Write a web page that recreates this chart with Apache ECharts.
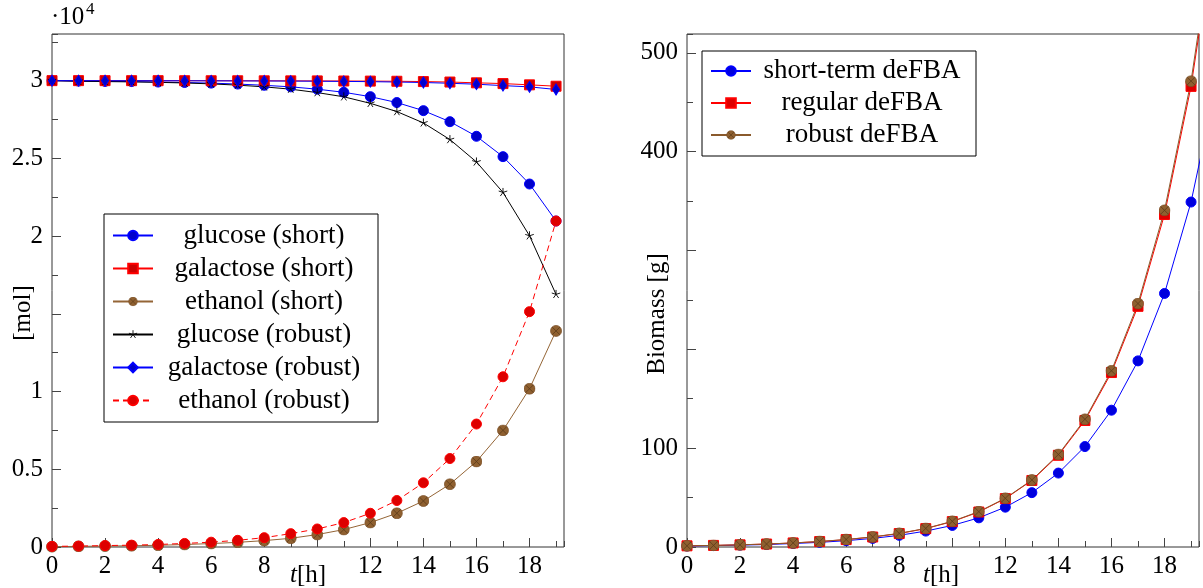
<!DOCTYPE html>
<html>
<head>
<meta charset="utf-8">
<script src="https://cdn.jsdelivr.net/npm/echarts@6/dist/echarts.min.js"></script>
<style>
  html, body { margin: 0; padding: 0; background: #fff; }
  #chart { width: 1203px; height: 588px; }
</style>
</head>
<body>
<div id="chart"></div>
<script>
// time [h]
const hours = [0, 1, 2, 3, 4, 5, 6, 7, 8, 9, 10, 11, 12, 13, 14, 15, 16, 17, 18, 19];
const hoursBio = [0, 1, 2, 3, 4, 5, 6, 7, 8, 9, 10, 11, 12, 13, 14, 15, 16, 17, 18, 19, 20];

// left panel [mol]
const glucoseShort = [30000, 29970, 29950, 29940, 29910, 29880, 29840, 29780, 29700, 29600, 29450, 29250, 28970, 28590, 28070, 27360, 26420, 25110, 23350, 20970];
const galactoseShort = [30000, 30000, 29999, 29998, 29997, 29995, 29993, 29991, 29989, 29986, 29982, 29977, 29970, 29960, 29940, 29910, 29860, 29810, 29730, 29640];
const ethanolShort = [20, 40, 60, 80, 110, 160, 220, 300, 410, 560, 800, 1120, 1570, 2170, 2960, 4040, 5500, 7500, 10180, 13900];
const glucoseRobust = [30000, 29960, 29940, 29920, 29890, 29850, 29790, 29710, 29600, 29450, 29230, 28960, 28540, 28010, 27280, 26210, 24770, 22810, 20020, 16250];
const galactoseRobust = [30000, 29998, 29997, 29995, 29993, 29990, 29987, 29983, 29978, 29972, 29962, 29950, 29935, 29910, 29880, 29830, 29770, 29680, 29600, 29430];
const ethanolRobust = [40, 60, 90, 120, 160, 230, 310, 430, 600, 860, 1160, 1570, 2170, 2990, 4130, 5690, 7910, 10950, 15140, 20970];

// right panel [g]
const biomassShort = [1.0, 1.4, 1.9, 2.5, 3.5, 4.7, 6.4, 8.7, 11.8, 16.1, 21.8, 29.5, 40.3, 55, 74.8, 101.6, 138.4, 188.3, 256.5, 349, 475];
const biomassRegular = [1.2, 1.6, 2.2, 3.0, 4.1, 5.5, 7.5, 10.1, 13.6, 18.6, 25.7, 35.4, 49, 67.3, 92.8, 128, 176.5, 243.5, 336.4, 466, 643];
const biomassRobust = [1.2, 1.6, 2.2, 3.0, 4.1, 5.6, 7.6, 10.2, 13.8, 18.8, 26, 35.8, 49.3, 67.8, 93.6, 129.2, 178.3, 246.3, 340.6, 471.3, 652];

const leftNames = ['glucose (short)', 'galactose (short)', 'ethanol (short)', 'glucose (robust)', 'galactose (robust)', 'ethanol (robust)'];
const rightNames = ['short-term deFBA', 'regular deFBA', 'robust deFBA'];

const FONT = '"Liberation Serif", "DejaVu Serif", serif';

function pairs(xs, ys) {
  return xs.map((x, i) => [x, ys[i]]);
}

function svgSymbol(svg) {
  return 'image://data:image/svg+xml;charset=utf-8,' + encodeURIComponent(svg);
}

// brown circle with a cross (otimes*)
const otimes = svgSymbol('<svg xmlns="http://www.w3.org/2000/svg" width="20" height="20" viewBox="0 0 20 20">' +
  '<circle cx="10" cy="10" r="9.2" fill="#8f6030" stroke="#7a5028" stroke-width="1.2"/>' +
  '<path d="M3.6 3.6L16.4 16.4M16.4 3.6L3.6 16.4" stroke="#5a3a18" stroke-width="1.3"/></svg>');
// five armed star
const star = svgSymbol('<svg xmlns="http://www.w3.org/2000/svg" width="20" height="20" viewBox="0 0 20 20">' +
  '<path d="M10 10L10 1M10 10L18.56 7.22M10 10L15.29 17.28M10 10L4.71 17.28M10 10L1.44 7.22" stroke="#000" stroke-width="1.8" fill="none"/></svg>');

function lineSeries(name, xi, data, color, fill, symbol, size, dashed) {
  return {
    name: name,
    type: 'line',
    xAxisIndex: xi,
    yAxisIndex: xi,
    data: data,
    symbol: symbol,
    symbolSize: size,
    showAllSymbol: true,
    animation: false,
    lineStyle: { color: color, width: 1, type: dashed ? [6, 4] : 'solid' },
    itemStyle: { color: fill, borderColor: color, borderWidth: 1 }
  };
}

function majorX(grid) {
  return {
    gridIndex: grid, type: 'value', min: 0, max: 19.3, interval: 2, position: 'bottom',
    axisLine: { show: false },
    axisTick: { inside: true, length: 9, lineStyle: { color: '#444' } },
    axisLabel: {
      color: '#000', fontFamily: FONT, fontSize: 25, margin: 7, showMaxLabel: false,
      formatter: v => (v === 10 || v % 2 !== 0) ? '' : String(v)
    },
    splitLine: { show: false }
  };
}

function minorX(grid) {
  return {
    gridIndex: grid, type: 'value', min: 0, max: 19.3, interval: 1, position: 'bottom',
    axisLine: { show: false },
    axisTick: { inside: true, length: 6, lineStyle: { color: '#444' } },
    axisLabel: { show: false },
    splitLine: { show: false }
  };
}

function legendBox(names, left, top, rowH, pad, textW) {
  return {
    data: names,
    orient: 'vertical',
    left: left,
    top: top,
    itemGap: 0,
    itemWidth: 40,
    itemHeight: 12,
    padding: pad,
    borderColor: '#000',
    borderWidth: 1,
    borderRadius: 0,
    backgroundColor: '#fff',
    selectedMode: false,
    formatter: '{t|{name}}',
    textStyle: {
      rich: { t: { width: textW, height: rowH, lineHeight: rowH, align: 'center', fontSize: 27, fontFamily: FONT, color: '#000' } }
    }
  };
}

const chart = echarts.init(document.getElementById('chart'), null, { renderer: 'canvas' });

const option = {
  backgroundColor: '#fff',
  animation: false,
  grid: [
    { left: 52, top: 34, width: 512, height: 513, show: true, borderColor: '#333', borderWidth: 1, backgroundColor: 'transparent' },
    { left: 687, top: 34, width: 512, height: 513, show: true, borderColor: '#333', borderWidth: 1, backgroundColor: 'transparent' }
  ],
  xAxis: [majorX(0), minorX(0), majorX(1), minorX(1)],
  yAxis: [
    {
      gridIndex: 0, type: 'value', min: 0, max: 33000, interval: 5000, position: 'left',
      axisLine: { show: false },
      axisTick: { inside: true, length: 9, lineStyle: { color: '#444' } },
      axisLabel: {
        color: '#000', fontFamily: FONT, fontSize: 25, margin: 9, showMaxLabel: false,
        formatter: v => (v === 15000 || v > 30000) ? '' : String(v / 10000)
      },
      splitLine: { show: false }
    },
    {
      gridIndex: 0, type: 'value', min: 0, max: 33000, interval: 2500, position: 'left',
      axisLine: { show: false },
      axisTick: { inside: true, length: 6, lineStyle: { color: '#444' } },
      axisLabel: { show: false },
      splitLine: { show: false }
    },
    {
      gridIndex: 1, type: 'value', min: 0, max: 519, interval: 100, position: 'left',
      axisLine: { show: false },
      axisTick: { inside: true, length: 9, lineStyle: { color: '#444' } },
      axisLabel: {
        color: '#000', fontFamily: FONT, fontSize: 25, margin: 9, showMaxLabel: false,
        formatter: v => (v === 200 || v === 300 || v > 500) ? '' : String(v)
      },
      splitLine: { show: false }
    },
    {
      gridIndex: 1, type: 'value', min: 0, max: 519, interval: 50, position: 'left',
      axisLine: { show: false },
      axisTick: { inside: true, length: 6, lineStyle: { color: '#444' } },
      axisLabel: { show: false },
      splitLine: { show: false }
    }
  ],
  legend: [
    legendBox(leftNames, 104, 214, 33, [5, 8, 5, 8], 212),
    legendBox(rightNames, 702, 51, 32, [4, 8, 5, 8], 212)
  ],
  graphic: [
    { type: 'text', left: 51, top: 5, style: { text: '·10', font: '25px ' + FONT, fill: '#000' } },
    { type: 'text', left: 86, top: 1, style: { text: '4', font: '17px ' + FONT, fill: '#000' } },
    { type: 'text', x: 23, y: 313, rotation: Math.PI / 2, style: { text: '[mol]', font: '25px ' + FONT, fill: '#000', align: 'center', verticalAlign: 'middle' } },
    { type: 'text', x: 657, y: 314, rotation: Math.PI / 2, style: { text: 'Biomass [g]', font: '25px ' + FONT, fill: '#000', align: 'center', verticalAlign: 'middle' } },
    { type: 'text', x: 308, y: 575, style: { text: '{i|t}[h]', font: '25px ' + FONT, fill: '#000', align: 'center', verticalAlign: 'middle', rich: { i: { fontStyle: 'italic', fontSize: 25, fontFamily: FONT } } } },
    { type: 'text', x: 941, y: 575, style: { text: '{i|t}[h]', font: '25px ' + FONT, fill: '#000', align: 'center', verticalAlign: 'middle', rich: { i: { fontStyle: 'italic', fontSize: 25, fontFamily: FONT } } } }
  ],
  series: [
    lineSeries(leftNames[0], 0, pairs(hours, glucoseShort), '#0000ff', '#0000cc', 'circle', 10),
    lineSeries(leftNames[1], 0, pairs(hours, galactoseShort), '#ff0000', '#cc0000', 'rect', 10),
    lineSeries(leftNames[2], 0, pairs(hours, ethanolShort), '#946536', '#8f6030', otimes, 12),
    lineSeries(leftNames[3], 0, pairs(hours, glucoseRobust), '#000000', '#000000', star, 10),
    lineSeries(leftNames[4], 0, pairs(hours, galactoseRobust), '#0000ff', '#0000cc', 'diamond', [7, 11]),
    lineSeries(leftNames[5], 0, pairs(hours, ethanolRobust), '#ff0000', '#dd0000', 'circle', 10, true),
    lineSeries(rightNames[0], 2, pairs(hoursBio, biomassShort), '#0000ff', '#0000dd', 'circle', 10),
    lineSeries(rightNames[1], 2, pairs(hoursBio, biomassRegular), '#ff0000', '#dd0000', 'rect', 10),
    lineSeries(rightNames[2], 2, pairs(hoursBio, biomassRobust), '#8a5a2c', '#8f6030', otimes, 12)
  ]
};

chart.setOption(option);
</script>
</body>
</html>
